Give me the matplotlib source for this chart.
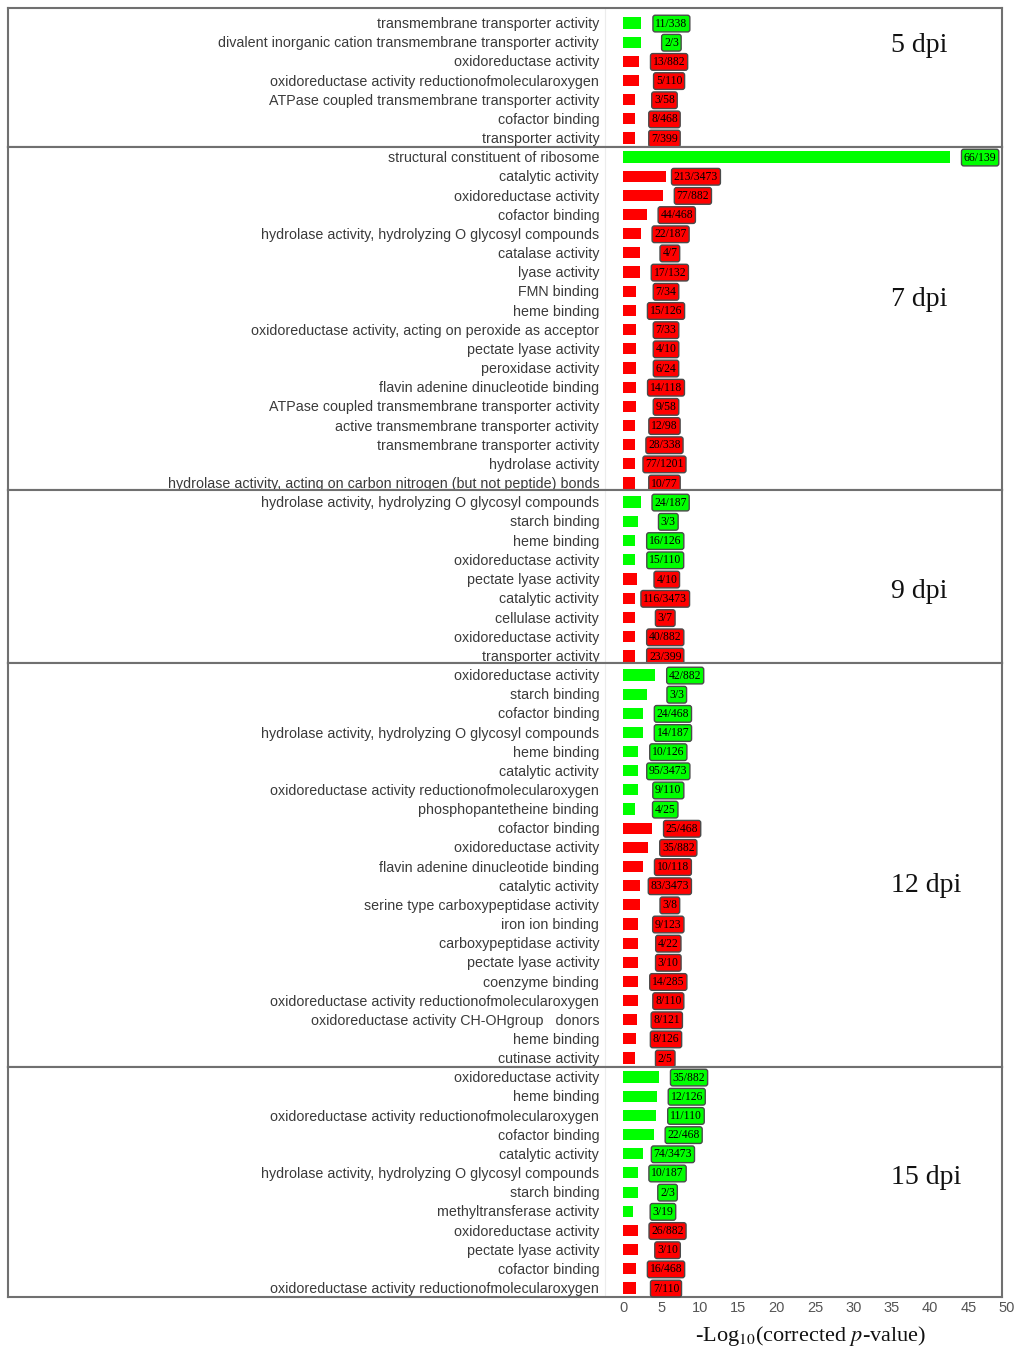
import matplotlib.pyplot as plt

GREEN = '#00ff00'
RED = '#ff0000'

# ---- data -------------------------------------------------------------
dpi_names = ['5 dpi', '7 dpi', '9 dpi', '12 dpi', '15 dpi']

terms_5 = ['transmembrane transporter activity',
           'divalent inorganic cation transmembrane transporter activity',
           'oxidoreductase activity',
           'oxidoreductase activity reductionofmolecularoxygen',
           'ATPase coupled transmembrane transporter activity',
           'cofactor binding',
           'transporter activity']
vals_5 = [2.4, 2.4, 2.1, 2.1, 1.5, 1.5, 1.5]
counts_5 = ['11/338', '2/3', '13/882', '5/110', '3/58', '8/468', '7/399']
up_5 = 2

terms_7 = ['structural constituent of ribosome',
           'catalytic activity',
           'oxidoreductase activity',
           'cofactor binding',
           'hydrolase activity, hydrolyzing O glycosyl compounds',
           'catalase activity',
           'lyase activity',
           'FMN binding',
           'heme binding',
           'oxidoreductase activity, acting on peroxide as acceptor',
           'pectate lyase activity',
           'peroxidase activity',
           'flavin adenine dinucleotide binding',
           'ATPase coupled transmembrane transporter activity',
           'active transmembrane transporter activity',
           'transmembrane transporter activity',
           'hydrolase activity',
           'hydrolase activity, acting on carbon nitrogen (but not peptide) bonds']
vals_7 = [42.6, 5.6, 5.2, 3.1, 2.3, 2.2, 2.2, 1.7, 1.7, 1.7, 1.7, 1.7, 1.7,
          1.7, 1.5, 1.5, 1.5, 1.5]
counts_7 = ['66/139', '213/3473', '77/882', '44/468', '22/187', '4/7', '17/132',
            '7/34', '15/126', '7/33', '4/10', '6/24', '14/118', '9/58', '12/98',
            '28/338', '77/1201', '10/77']
up_7 = 1

terms_9 = ['hydrolase activity, hydrolyzing O glycosyl compounds',
           'starch binding',
           'heme binding',
           'oxidoreductase activity',
           'pectate lyase activity',
           'catalytic activity',
           'cellulase activity',
           'oxidoreductase activity',
           'transporter activity']
vals_9 = [2.3, 2.0, 1.6, 1.6, 1.8, 1.6, 1.6, 1.6, 1.6]
counts_9 = ['24/187', '3/3', '16/126', '15/110', '4/10', '116/3473', '3/7',
            '40/882', '23/399']
up_9 = 4

terms_12 = ['oxidoreductase activity',
            'starch binding',
            'cofactor binding',
            'hydrolase activity, hydrolyzing O glycosyl compounds',
            'heme binding',
            'catalytic activity',
            'oxidoreductase activity reductionofmolecularoxygen',
            'phosphopantetheine binding',
            'cofactor binding',
            'oxidoreductase activity',
            'flavin adenine dinucleotide binding',
            'catalytic activity',
            'serine type carboxypeptidase activity',
            'iron ion binding',
            'carboxypeptidase activity',
            'pectate lyase activity',
            'coenzyme binding',
            'oxidoreductase activity reductionofmolecularoxygen',
            'oxidoreductase activity CH-OHgroup   donors',
            'heme binding',
            'cutinase activity']
vals_12 = [4.2, 3.1, 2.6, 2.6, 2.0, 2.0, 2.0, 1.6, 3.8, 3.3, 2.6, 2.2, 2.2,
           2.0, 2.0, 2.0, 2.0, 2.0, 1.8, 1.7, 1.6]
counts_12 = ['42/882', '3/3', '24/468', '14/187', '10/126', '95/3473', '9/110',
             '4/25', '25/468', '35/882', '10/118', '83/3473', '3/8', '9/123',
             '4/22', '3/10', '14/285', '8/110', '8/121', '8/126', '2/5']
up_12 = 8

terms_15 = ['oxidoreductase activity',
            'heme binding',
            'oxidoreductase activity reductionofmolecularoxygen',
            'cofactor binding',
            'catalytic activity',
            'hydrolase activity, hydrolyzing O glycosyl compounds',
            'starch binding',
            'methyltransferase activity',
            'oxidoreductase activity',
            'pectate lyase activity',
            'cofactor binding',
            'oxidoreductase activity reductionofmolecularoxygen']
vals_15 = [4.7, 4.4, 4.3, 4.0, 2.6, 1.9, 1.9, 1.3, 1.9, 1.9, 1.7, 1.7]
counts_15 = ['35/882', '12/126', '11/110', '22/468', '74/3473', '10/187', '2/3',
             '3/19', '26/882', '3/10', '16/468', '7/110']
up_15 = 8

x_ticks = [0, 5, 10, 15, 20, 25, 30, 35, 40, 45, 50]

panels = [(terms_5, vals_5, counts_5, up_5),
          (terms_7, vals_7, counts_7, up_7),
          (terms_9, vals_9, counts_9, up_9),
          (terms_12, vals_12, counts_12, up_12),
          (terms_15, vals_15, counts_15, up_15)]

# ---- layout (pixels) --------------------------------------------------
W, H = 1017, 1349
left_px, right_px = 8, 1002
zero_px, px_per_unit = 623, 7.68
# panel top, first row, last row, bottom
bounds = [(8, 23, 138, 147), (147, 157, 483, 490), (490, 502, 656, 663),
          (663, 675, 1058, 1067), (1067, 1077, 1288, 1297)]
dpi_y = [46, 300, 592, 885, 1178]

xmin = -(zero_px - left_px) / px_per_unit
xmax = (right_px - zero_px) / px_per_unit

fig = plt.figure(figsize=(W / 100, H / 100), dpi=100)

for (terms, vals, counts, n_up), (top, first, last, bot), name, ty in zip(
        panels, bounds, dpi_names, dpi_y):
    n = len(terms)
    step = (last - first) / (n - 1)
    ax = fig.add_axes([left_px / W, 1 - bot / H, (right_px - left_px) / W, (bot - top) / H])
    ax.set_xlim(xmin, xmax)
    ax.set_ylim(n - 1 + (bot - last) / step, -(first - top) / step)
    ax.set_xticks([])
    ax.set_yticks([])
    for s in ax.spines.values():
        s.set_color('#707070')
        s.set_linewidth(1.5)
    ax.axvline(-2.3, color='#ececec', lw=0.8, zorder=0)

    colors = [GREEN if i < n_up else RED for i in range(n)]
    ax.barh(range(n), vals, height=0.58, color=colors, edgecolor='none')
    for i in range(n):
        ax.text(-3.1, i + 0.06, terms[i], ha='right', va='center', fontsize=10.3,
                family='Liberation Sans', color='#3a3a3a')
        ax.text(vals[i] + 3.9, i + 0.03, counts[i], ha='center', va='center',
                fontsize=8.4, family='Liberation Serif', color='black',
                bbox=dict(boxstyle='round,pad=0.2', fc=colors[i],
                          ec='#4a4a4a', lw=1.0))
    ax.text(34.9, (ty - first) / step, name, ha='left', va='center',
            fontsize=20, family='Liberation Serif', color='#111111')

# x axis strip
axx = fig.add_axes([zero_px / W, 1 - 1301 / H, 50 * px_per_unit / W, 0.001])
axx.set_xlim(0, 50)
axx.set_xticks(x_ticks)
axx.set_yticks([])
axx.tick_params(axis='x', length=0, labelsize=10.5, labelcolor='#555555', pad=0)
for s in axx.spines.values():
    s.set_visible(False)
axx.patch.set_alpha(0)
for lab in axx.get_xticklabels():
    lab.set_family('Liberation Sans')

fig.text(811 / W, 1 - 1336 / H,
         r'-Log$_{10}$(corrected $p$-value)', ha='center', va='center',
         fontsize=16, family='Liberation Serif', color='#111111',
         math_fontfamily='stix')

fig.savefig('out.png', dpi=100)
